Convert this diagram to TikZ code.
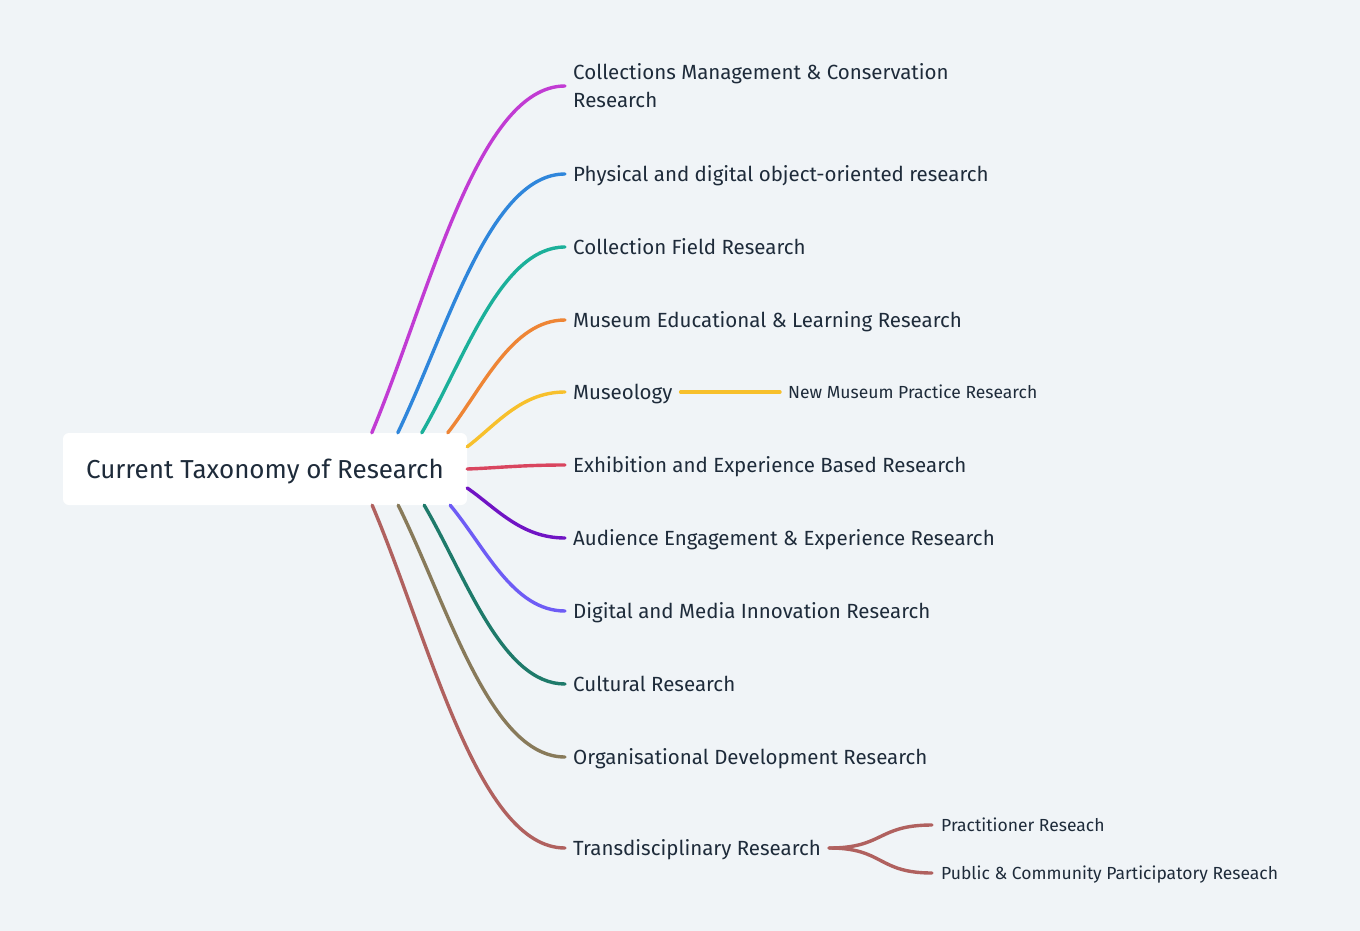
\documentclass[tikz,border=0pt]{standalone}
\usepackage{fontspec}
\setmainfont{Fira Sans}
\usetikzlibrary{positioning}
\definecolor{bg}{HTML}{F0F4F7}
\definecolor{ink}{HTML}{1E2B3A}
\definecolor{cmag}{HTML}{C13BD3}
\definecolor{cblue}{HTML}{2F86DB}
\definecolor{cteal}{HTML}{1BB09A}
\definecolor{corange}{HTML}{EE8535}
\definecolor{cyellow}{HTML}{F7C02C}
\definecolor{cred}{HTML}{D9455F}
\definecolor{cpurple}{HTML}{7014C4}
\definecolor{cviolet}{HTML}{6E5CF5}
\definecolor{cgreen}{HTML}{1E7A6A}
\definecolor{colive}{HTML}{887A5A}
\definecolor{crose}{HTML}{B0615F}
\tikzset{
  topicbase/.style={anchor=west, inner xsep=8pt, inner ysep=2pt, text=ink, font=\fontsize{20.5}{28}\selectfont},
  topic/.style={topicbase, text height=15pt, text depth=1pt},
  subtopic/.style={topic, font=\fontsize{17.5}{20}\selectfont, text height=13pt, text depth=1pt},
  branch/.style={line width=3.4pt, line cap=round},
}
\begin{document}
\begin{tikzpicture}[x=1pt,y=-1pt]
\fill[bg] (0,0) rectangle (1360,931);
\node[fill=white, rounded corners=6pt, minimum width=404pt, minimum height=72pt, inner sep=0pt, text=ink, font=\fontsize{26}{30}\selectfont, text height=21pt, text depth=3pt](root) at (265,469){Current Taxonomy of Research};

\node[topicbase, align=left](collect) at (565,86){Collections Management \& Conservation\\Research};
\node[topic](physical) at (565,174){Physical and digital object-oriented research};
\node[topic](field) at (565,247){Collection Field Research};
\node[topic](edu) at (565,320){Museum Educational \& Learning Research};
\node[topic](museo) at (565,392){Museology};
\node[topic](exhib) at (565,465){Exhibition and Experience Based Research};
\node[topic](audience) at (565,538){Audience Engagement \& Experience Research};
\node[topic](digital) at (565,611){Digital and Media Innovation Research};
\node[topic](cultural) at (565,684){Cultural Research};
\node[topic](orga) at (565,757){Organisational Development Research};
\node[topic](trans) at (565,848){Transdisciplinary Research};

\node[subtopic](newpractice) at (780,392){New Museum Practice Research};
\node[subtopic, inner xsep=9pt](practitioner) at (932,825){Practitioner Reseach};
\node[subtopic, inner xsep=9pt](public) at (932,873){Public \& Community Participatory Reseach};

\coordinate (s1) at ([xshift=309pt]root.north west);
\coordinate (s2) at ([xshift=335pt]root.north west);
\coordinate (s3) at ([xshift=359pt]root.north west);
\coordinate (s4) at ([xshift=385pt]root.north west);
\coordinate (s5) at ([yshift=-14pt]root.north east);
\coordinate (s6) at (root.east);
\coordinate (s7) at ([yshift=-19pt]root.east);
\coordinate (s8) at ([xshift=-17pt]root.south east);
\coordinate (s9) at ([xshift=-43pt]root.south east);
\coordinate (s10) at ([xshift=-69pt]root.south east);
\coordinate (s11) at ([xshift=-95pt]root.south east);

\draw[branch, cmag] (s1) .. controls +(58,-139) and +(-87,0) .. (collect.west);
\draw[branch, cblue] (s2) .. controls +(50,-104) and +(-75,0) .. (physical.west);
\draw[branch, cteal] (s3) .. controls +(43,-74) and +(-64,0) .. (field.west);
\draw[branch, corange] (s4) .. controls +(35,-45) and +(-53,0) .. (edu.west);
\draw[branch, cyellow] (s5) .. controls +(29,-22) and +(-44,0) .. (museo.west);
\draw[branch, cred] (s6) .. controls +(29,-1) and +(-44,0) .. (exhib.west);
\draw[branch, cpurple] (s7) .. controls +(29,20) and +(-44,0) .. (audience.west);
\draw[branch, cviolet] (s8) .. controls +(35,42) and +(-52,0) .. (digital.west);
\draw[branch, cgreen] (s9) .. controls +(42,72) and +(-63,0) .. (cultural.west);
\draw[branch, colive] (s10) .. controls +(50,101) and +(-75,0) .. (orga.west);
\draw[branch, crose] (s11) .. controls +(58,137) and +(-87,0) .. (trans.west);

\draw[branch, cyellow] (museo.east) -- (newpractice.west);
\draw[branch, crose] (trans.east) .. controls +(55,0) and +(-55,0) .. (practitioner.west);
\draw[branch, crose] (trans.east) .. controls +(55,0) and +(-55,0) .. (public.west);
\end{tikzpicture}
\end{document}
